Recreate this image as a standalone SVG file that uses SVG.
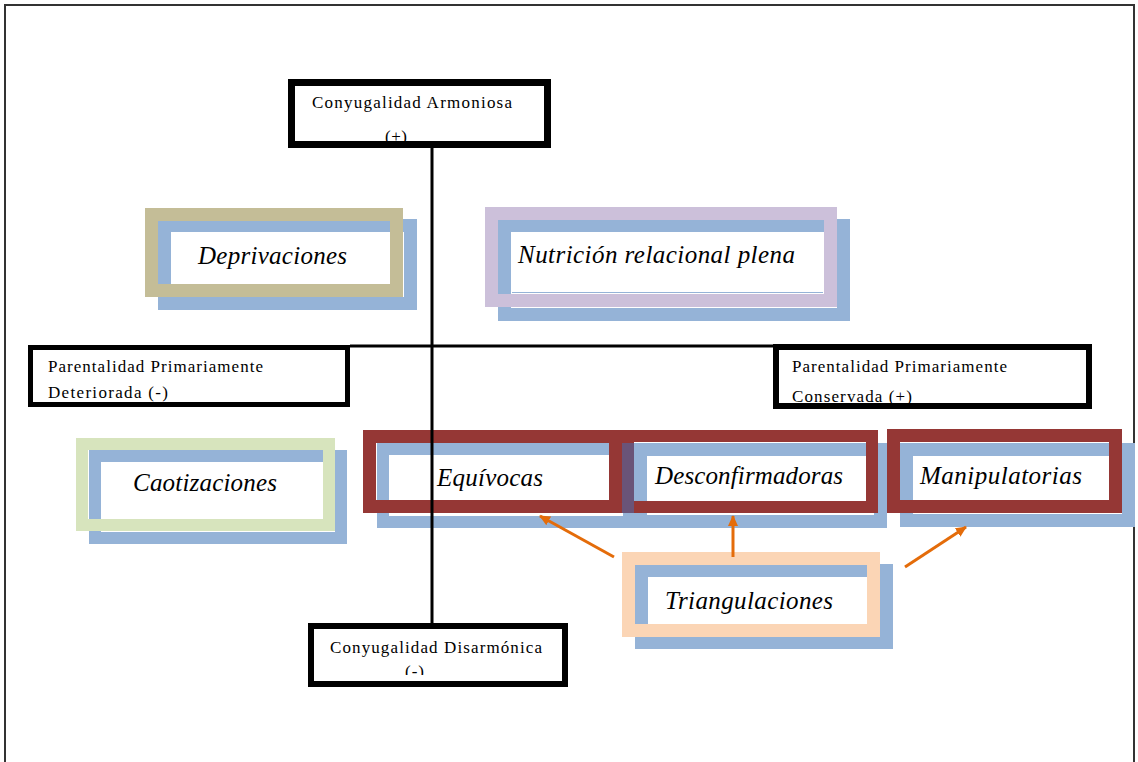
<svg xmlns="http://www.w3.org/2000/svg" width="1138" height="762" viewBox="0 0 1138 762">
<style>
.blk{fill:none;stroke:#000}
.blue{fill:none;stroke:#95b3d7}
.sm{font-family:"Liberation Serif","Times New Roman",serif;font-size:17px;fill:#000}
.it{font-family:"Liberation Serif","Times New Roman",serif;font-size:25px;font-style:italic;fill:#000}
.arr{stroke:#e46c0a;stroke-width:3;fill:none}
</style>
<defs>
<marker id="ah" markerWidth="12" markerHeight="12" refX="10" refY="6" orient="auto" markerUnits="userSpaceOnUse">
<path d="M0,1 L11,6 L0,11 Z" fill="#e46c0a"/>
</marker>
<clipPath id="cl"><rect x="380" y="660" width="60" height="15"/></clipPath>
</defs>
<rect x="0" y="0" width="1138" height="762" fill="#fff"/>
<path d="M5,770 V5 H1134 V770" fill="none" stroke="#333" stroke-width="2"/>

<g id="conyugalidad-armoniosa">
<text class="sm" x="312" y="108" textLength="200" lengthAdjust="spacing">Conyugalidad Armoniosa</text>
<text class="sm" x="385" y="142" textLength="22" lengthAdjust="spacing">(+)</text>
<rect class="blk" x="291.5" y="82.5" width="256" height="62" stroke-width="7"/>
</g>

<g id="deprivaciones">
<rect class="blue" x="164.5" y="225.5" width="246" height="78" stroke-width="13"/>
<rect fill="none" stroke="#c4bd97" x="151.5" y="214.5" width="245" height="76" stroke-width="13"/>
<text class="it" x="198" y="264" textLength="149" lengthAdjust="spacing">Deprivaciones</text>
</g>

<g id="nutricion">
<rect class="blue" x="504.5" y="225.5" width="339" height="89" stroke-width="13"/>
<rect fill="none" stroke="#ccc0da" x="491.5" y="213.5" width="339" height="87" stroke-width="13"/>
<line x1="512" y1="292.5" x2="823" y2="292.5" stroke="#95b3d7" stroke-width="1"/>
<text class="it" x="518" y="263" textLength="277" lengthAdjust="spacing">Nutrición relacional plena</text>
</g>

<g id="parentalidad-deteriorada">
<text class="sm" x="48" y="372" textLength="215" lengthAdjust="spacing">Parentalidad Primariamente</text>
<text class="sm" x="48" y="398" textLength="120" lengthAdjust="spacing">Deteriorada (-)</text>
<rect class="blk" x="30.5" y="347.5" width="317" height="57" stroke-width="5"/>
</g>

<g id="parentalidad-conservada">
<text class="sm" x="792" y="372" textLength="215" lengthAdjust="spacing">Parentalidad Primariamente</text>
<text class="sm" x="792" y="402" textLength="120" lengthAdjust="spacing">Conservada (+)</text>
<rect class="blk" x="776" y="347" width="313" height="59" stroke-width="6"/>
</g>

<g id="caotizaciones">
<rect class="blue" x="95" y="456" width="246" height="82" stroke-width="12"/>
<rect fill="none" stroke="#d7e4bd" x="82" y="444" width="247" height="81" stroke-width="12"/>
<text class="it" x="133" y="491" textLength="144" lengthAdjust="spacing">Caotizaciones</text>
</g>

<g id="equivocas">
<rect class="blue" x="383" y="449" width="246" height="73" stroke-width="12"/>
</g>
<g id="desconfirmadoras">
<rect class="blue" x="640.5" y="449.5" width="240" height="72" stroke-width="13"/>
</g>
<g id="manipulatorias">
<rect class="blue" x="906.5" y="449.5" width="222" height="71" stroke-width="13"/>
<rect fill="none" stroke="#953735" x="893.5" y="435.5" width="222" height="71" stroke-width="13"/>
<text class="it" x="920" y="484" textLength="162" lengthAdjust="spacing">Manipulatorias</text>
</g>
<g id="desconfirmadoras-frame">
<rect fill="none" stroke="#953735" x="628" y="436" width="244" height="71" stroke-width="12"/>
<text class="it" x="655" y="484" textLength="188" lengthAdjust="spacing">Desconfirmadoras</text>
</g>
<g id="equivocas-frame">
<rect fill="none" stroke="#953735" x="369.5" y="436.5" width="246" height="70" stroke-width="13"/>
<rect x="622" y="443" width="12" height="70" fill="#6a5478"/>
<text class="it" x="437" y="486" textLength="106" lengthAdjust="spacing">Equívocas</text>
</g>

<g id="triangulaciones">
<rect class="blue" x="641.5" y="570.5" width="245" height="72" stroke-width="13"/>
<rect fill="none" stroke="#fbd5b5" x="628.5" y="558.5" width="245" height="72" stroke-width="13"/>
<text class="it" x="665" y="609" textLength="168" lengthAdjust="spacing">Triangulaciones</text>
</g>

<g id="conyugalidad-disarmonica">
<text class="sm" x="330" y="653" textLength="212" lengthAdjust="spacing">Conyugalidad Disarmónica</text>
<text class="sm" x="405" y="677" clip-path="url(#cl)" textLength="19" lengthAdjust="spacing">(-)</text>
<rect class="blk" x="311" y="626" width="254" height="58" stroke-width="6"/>
</g>

<g id="connectors">
<line x1="432" y1="148" x2="432" y2="623" stroke="#000" stroke-width="3"/>
<line x1="350" y1="346" x2="773" y2="346" stroke="#000" stroke-width="3"/>
<line class="arr" x1="614" y1="557" x2="540" y2="516" marker-end="url(#ah)"/>
<line class="arr" x1="733" y1="557" x2="733" y2="516" marker-end="url(#ah)"/>
<line class="arr" x1="905" y1="567" x2="966" y2="527" marker-end="url(#ah)"/>
</g>
</svg>
